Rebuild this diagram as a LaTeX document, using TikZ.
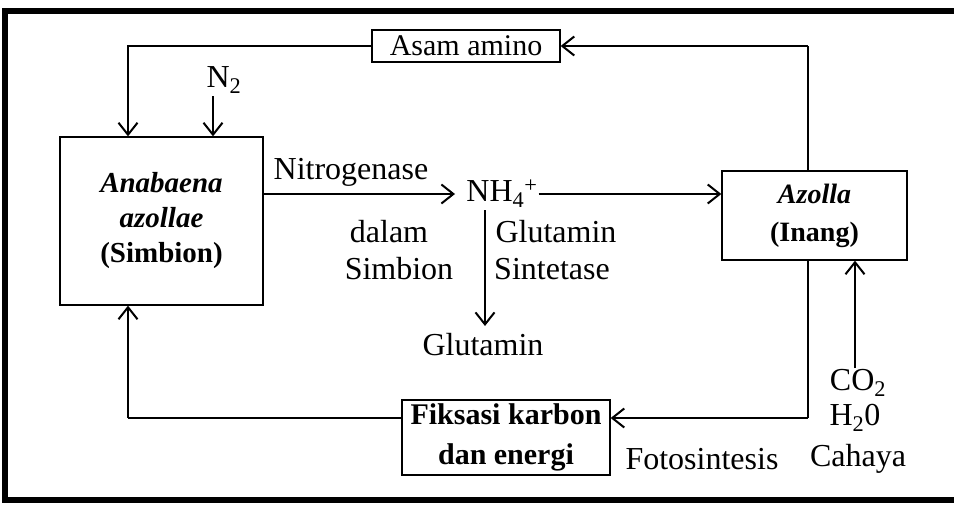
\documentclass[tikz,border=0pt]{standalone}
\usepackage{fontspec}
\setmainfont{Liberation Serif}
\usetikzlibrary{arrows.meta}
\begin{document}
\begin{tikzpicture}[x=1pt,y=-1pt,
  every node/.style={font=\fontsize{32}{36}\selectfont,inner sep=1pt},
  box/.style={draw,line width=1.3pt,align=center,inner sep=0pt},
  conn/.style={line width=1.3pt},
  arr/.style={conn,-{Straight Barb[length=12pt,width=19pt,line width=2pt]}},
  frame/.style={line width=6pt}]
\useasboundingbox (0,0) rectangle (954,506);
% frame
\draw[frame] (954,11) -- (5,11) -- (5,500) -- (954,500);
% boxes
\node[box,minimum width=188pt,minimum height=32pt,font=\fontsize{30}{34}\selectfont] (asam) at (466,46) {Asam amino};
\node[box,minimum width=203pt,minimum height=168pt,font=\fontsize{29}{35}\selectfont\bfseries] (ana) at (161.5,221) {\textit{Anabaena}\\\textit{azollae}\\(Simbion)};
\node[box,minimum width=185pt,minimum height=89pt,font=\fontsize{28}{38}\selectfont\bfseries] (azo) at (814.5,215.5) {\textit{Azolla}\\(Inang)};
\node[box,minimum width=208pt,minimum height=75pt,font=\fontsize{30}{40}\selectfont\bfseries] (fik) at (506,437.5) {Fiksasi karbon\\dan energi};
% text nodes
\node (n2) at (224,80) {N\textsubscript{2}};
\node (nh4) at (502,194) {NH\textsubscript{4}\textsuperscript{+}};
\node (glu) at (483,345) {Glutamin};
\node (co2) at (858,383) {CO\textsubscript{2}};
\node (h2o) at (855,418) {H\textsubscript{2}0};
\node (cah) at (858,459) {Cahaya};
\node (foto) at (702,459) {Fotosintesis};
\node (nitro) at (351,172) {Nitrogenase};
\node (dal) at (389,232) {dalam};
\node (sim) at (399,269) {Simbion};
\node (gluS) at (556,232) {Glutamin};
\node (sint) at (552,269) {Sintetase};
% coordinates
\coordinate (c1) at (128,46);
\coordinate (c2) at (808,46);
\coordinate (c3) at (808,418);
\coordinate (c4) at (128,418);
% connectors
\draw[arr] (asam.west) -- (c1) -- (ana.north -| c1);
\draw[arr] (213,96) -- (ana.north -| 213,0);
\draw[arr] (c2) -- (asam.east);
\draw[conn] (c2) -- (azo.north -| c2);
\draw[arr] (ana.east |- 0,194) -- (455,194);
\draw[arr] (nh4.east) -- (azo.west |- 0,194);
\draw[arr] (485,210) -- (485,326);
\draw[conn] (azo.south -| c3) -- (c3);
\draw[arr] (c3) -- (fik.east |- c3);
\draw[conn] (fik.west |- c4) -- (c4);
\draw[arr] (c4) -- (ana.south -| c4);
\draw[arr] (855,368) -- (azo.south -| 855,0);
\end{tikzpicture}
\end{document}
